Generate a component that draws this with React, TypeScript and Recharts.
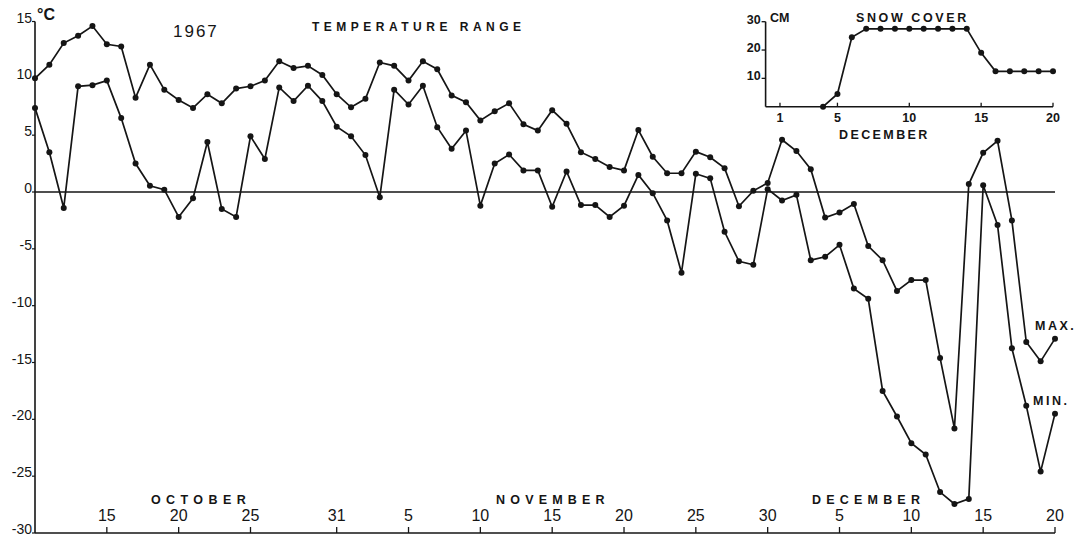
import { LineChart, Line, XAxis, YAxis, ReferenceLine } from 'recharts'

const INK = '#151515'
const FONT = '"Liberation Sans", Arial, sans-serif'

// daily max / min, 10 Oct .. 20 Dec 1967 (index 0 = Oct 10)
const maxTemp = [
  10.0, 11.2, 13.1, 13.75, 14.6, 13.0, 12.8, 8.3, 11.2, 9.0,
  8.1, 7.4, 8.6, 7.8, 9.1, 9.3, 9.8, 11.5, 10.9, 11.1,
  10.3, 8.6, 7.45, 8.2, 11.4, 11.1, 9.8, 11.5, 10.8, 8.5,
  7.9, 6.3, 7.1, 7.8, 5.95, 5.4, 7.2, 6.0, 3.5, 2.9,
  2.2, 1.9, 5.45, 3.1, 1.65, 1.65, 3.55, 3.05, 2.1, -1.25,
  0.1, 0.8, 4.6, 3.6, 2.0, -2.25, -1.8, -1.05, -4.75, -6.0,
  -8.7, -7.75, -7.75, -14.6, -20.8, 0.7, 3.45, 4.5, -2.5, -13.2,
  -14.9, -12.9,
]
const minTemp = [
  7.4, 3.5, -1.4, 9.3, 9.4, 9.8, 6.5, 2.5, 0.55, 0.2,
  -2.2, -0.55, 4.4, -1.5, -2.2, 4.9, 2.9, 9.2, 8.0, 9.35,
  8.0, 5.75, 4.9, 3.25, -0.47, 9.0, 7.7, 9.35, 5.7, 3.8,
  5.4, -1.2, 2.5, 3.3, 1.9, 1.9, -1.3, 1.8, -1.15, -1.15,
  -2.2, -1.2, 1.5, -0.1, -2.5, -7.1, 1.6, 1.2, -3.5, -6.1,
  -6.4, 0.25, -0.75, -0.25, -6.0, -5.7, -4.65, -8.5, -9.4, -17.5,
  -19.75, -22.1, -23.1, -26.4, -27.45, -27.0, 0.6, -2.9, -13.75, -18.8,
  -24.6, -19.5,
]
const tickDays = [5, 10, 15, 21, 26, 31, 36, 41, 46, 51, 56, 61, 66, 71]
const tickLabels = ['15', '20', '25', '31', '5', '10', '15', '20', '25', '30', '5', '10', '15', '20']
const tempTicks = [15, 10, 5, 0, -5, -10, -15, -20, -25, -30]

// snow cover inset, December
const snowDays = [4, 5, 6, 7, 8, 9, 10, 11, 12, 13, 14, 15, 16, 17, 18, 19, 20]
const snowCm = [0, 4.5, 24.5, 27.5, 27.5, 27.5, 27.5, 27.5, 27.5, 27.5, 27.5, 19, 12.5, 12.5, 12.5, 12.5, 12.5]
const snowDayTicks = [1, 5, 10, 15, 20]
const snowTicks = [10, 20, 30]

const tempData = maxTemp.map((v, i) => ({ day: i, max: v, min: minTemp[i] }))
const snowData = snowDays.map((d, i) => ({ day: d, cm: snowCm[i] }))

const dot = { r: 3, fill: INK, stroke: INK, strokeWidth: 0 }

function TempTick({ x, y, payload }: any) {
  return (
    <g>
      <line x1={x - 3} y1={y} x2={x} y2={y} stroke={INK} strokeWidth={1.2} />
      <text x={x - 3} y={y + 1} textAnchor="end" fontSize={14} fill={INK} fontFamily={FONT}>
        {payload.value}
      </text>
    </g>
  )
}

function DayTick({ x, y, payload }: any) {
  const idx = tickDays.indexOf(payload.value)
  return (
    <g>
      <line x1={x} y1={y} x2={x} y2={y - 6} stroke={INK} strokeWidth={1.3} />
      <text x={x} y={y - 12} textAnchor="middle" fontSize={16} fill={INK} fontFamily={FONT}>
        {tickLabels[idx]}
      </text>
    </g>
  )
}

function SnowYTick({ x, y, payload }: any) {
  return (
    <g>
      <line x1={x - 4} y1={y} x2={x} y2={y} stroke={INK} strokeWidth={1.3} />
      <text x={x - 5} y={y + 2} textAnchor="end" fontSize={12.5} fontWeight={700} fill={INK} fontFamily={FONT}>
        {payload.value}
      </text>
    </g>
  )
}

function SnowXTick({ x, y, payload }: any) {
  return (
    <g>
      <line x1={x} y1={y} x2={x} y2={y - 4} stroke={INK} strokeWidth={1.3} />
      <text x={x} y={y + 15} textAnchor="middle" fontSize={12.5} fontWeight={700} fill={INK} fontFamily={FONT}>
        {payload.value}
      </text>
    </g>
  )
}

export default function App() {
  const caps = { fontSize: 12.5, fontWeight: 700, fill: INK, fontFamily: FONT }
  return (
    <div style={{ position: 'absolute', left: 0, top: 0, width: 1082, height: 542, background: '#fff' }}>
      <LineChart width={1082} height={542} data={tempData} margin={{ top: 21.5, right: 27, bottom: 0, left: 0 }}>
        <XAxis
          dataKey="day"
          type="number"
          domain={[0, 71]}
          ticks={tickDays}
          interval={0}
          height={9}
          tickSize={0}
          tickMargin={0}
          tick={<DayTick />}
          axisLine={{ stroke: INK, strokeWidth: 1.6 }}
        />
        <YAxis
          type="number"
          domain={[-30, 15]}
          ticks={tempTicks}
          interval={0}
          width={35}
          tickSize={0}
          tickMargin={0}
          tick={<TempTick />}
          axisLine={{ stroke: INK, strokeWidth: 1.6 }}
        />
        <ReferenceLine y={0} stroke={INK} strokeWidth={1.5} />
        <Line dataKey="max" stroke={INK} strokeWidth={1.7} dot={dot} isAnimationActive={false} />
        <Line dataKey="min" stroke={INK} strokeWidth={1.7} dot={dot} isAnimationActive={false} />
      </LineChart>

      {/* snow cover inset */}
      <div style={{ position: 'absolute', left: 740, top: 0 }}>
        <LineChart width={342} height={145} data={snowData} margin={{ top: 21.7, right: 29, bottom: 0, left: 0 }}>
          <XAxis
            dataKey="day"
            type="number"
            domain={[0, 20]}
            ticks={snowDayTicks}
            interval={0}
            height={38.3}
            tickSize={0}
            tickMargin={0}
            tick={<SnowXTick />}
            axisLine={{ stroke: INK, strokeWidth: 1.6 }}
          />
          <YAxis
            type="number"
            domain={[0, 30]}
            ticks={snowTicks}
            interval={0}
            width={25.6}
            tickSize={0}
            tickMargin={0}
            tick={<SnowYTick />}
            axisLine={{ stroke: INK, strokeWidth: 1.6 }}
          />
          <Line dataKey="cm" stroke={INK} strokeWidth={1.7} dot={dot} isAnimationActive={false} />
        </LineChart>
      </div>

      {/* titles and labels */}
      <svg width={1082} height={542} style={{ position: 'absolute', left: 0, top: 0, pointerEvents: 'none' }}>
        <text x={37} y={20} fontSize={16} fontWeight={700} fill={INK} fontFamily={FONT}>°C</text>
        <text x={173} y={37} fontSize={17} letterSpacing={2} fill={INK} fontFamily={FONT}>1967</text>
        <text x={312} y={31} {...caps} fontSize={12} letterSpacing={4.5}>TEMPERATURE  RANGE</text>
        <text x={151} y={504} {...caps} letterSpacing={5.4}>OCTOBER</text>
        <text x={496} y={504} {...caps} letterSpacing={5.2}>NOVEMBER</text>
        <text x={812} y={504} {...caps} letterSpacing={5.2}>DECEMBER</text>
        <text x={1035} y={330} {...caps} letterSpacing={2.5}>MAX.</text>
        <text x={1033} y={405} {...caps} letterSpacing={2.5}>MIN.</text>
        <text x={856} y={22} {...caps} letterSpacing={2.6}>SNOW  COVER</text>
        <text x={770} y={22} {...caps}>CM</text>
        <text x={839} y={139} {...caps} letterSpacing={2.4}>DECEMBER</text>
      </svg>
    </div>
  )
}
